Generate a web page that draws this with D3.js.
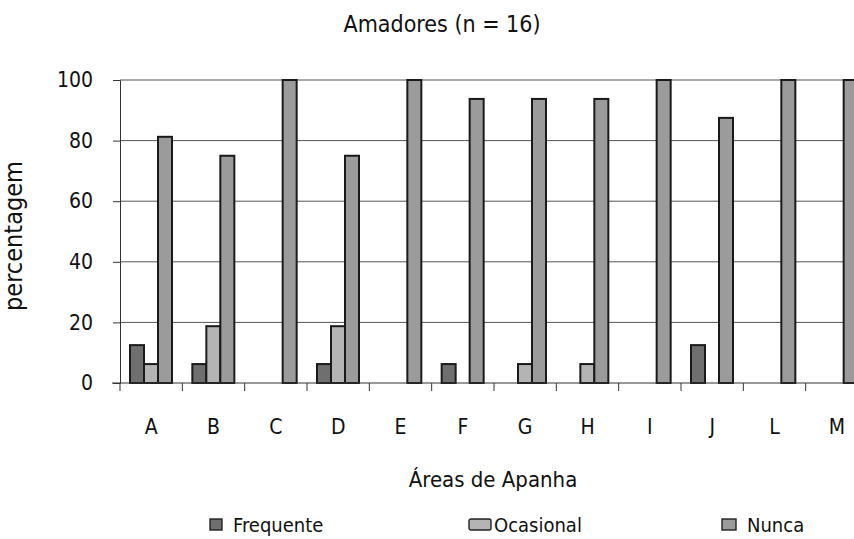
<!DOCTYPE html>
<html lang="pt">
<head>
  <meta charset="UTF-8">
  <script src="https://cdn.jsdelivr.net/npm/d3@7/dist/d3.min.js"></script>
  <style>
    body { margin: 0; background: #fff; }
    text { font-family: "DejaVu Sans Condensed", "Liberation Sans Narrow", sans-serif; fill: #111; }
  </style>
</head>
<body>
<svg></svg>
<script>
  // data (n = 16, so steps of 6.25 %)
  var areas = ["A", "B", "C", "D", "E", "F", "G", "H", "I", "J", "L", "M"];
  var series = ["Frequente", "Ocasional", "Nunca"];
  var frequente = [12.5, 6.25, 0, 6.25, 0, 6.25, 0, 0, 0, 12.5, 0, 0];
  var ocasional = [6.25, 18.75, 0, 18.75, 0, 0, 6.25, 6.25, 0, 0, 0, 0];
  var nunca = [81.25, 75, 100, 75, 100, 93.75, 93.75, 93.75, 100, 87.5, 100, 100];
  var yTicks = [0, 20, 40, 60, 80, 100];
  var colors = ["#6f6f6f", "#b4b4b4", "#9b9b9b"];

  var W = 854, H = 539;
  var margin = {top: 80, left: 120, bottom: 156};
  var plotW = 748, plotH = H - margin.top - margin.bottom;

  var svg = d3.select("svg").attr("width", W).attr("height", H);

  var values = [frequente, ocasional, nunca];
  var rows = areas.map(function(a, i) {
    return {area: a, vals: series.map(function(s, j) { return {key: s, idx: j, v: values[j][i]}; })};
  });

  var x = d3.scaleBand().domain(areas).range([0, plotW]).padding(0);
  var xs = d3.scaleBand().domain(series).range([10, 52]).padding(0);
  var y = d3.scaleLinear().domain([0, 100]).range([plotH, 0]);

  var g = svg.append("g").attr("transform", "translate(" + margin.left + "," + margin.top + ")");

  // horizontal gridlines
  g.selectAll(".grid").data(yTicks.slice(1)).enter().append("line")
    .attr("x1", 0).attr("x2", plotW)
    .attr("y1", function(d) { return y(d); }).attr("y2", function(d) { return y(d); })
    .attr("stroke", "#555").attr("stroke-width", 1);

  // bars
  var grp = g.selectAll(".area").data(rows).enter().append("g")
    .attr("transform", function(d) { return "translate(" + x(d.area) + ",0)"; });

  grp.selectAll("rect").data(function(d) { return d.vals.filter(function(e) { return e.v > 0; }); })
    .enter().append("rect")
    .attr("x", function(d) { return xs(d.key); })
    .attr("width", xs.bandwidth())
    .attr("y", function(d) { return y(d.v); })
    .attr("height", function(d) { return y(0) - y(d.v); })
    .attr("fill", function(d) { return colors[d.idx]; })
    .attr("stroke", "#1a1a1a").attr("stroke-width", 2);

  // y axis
  var yAxis = d3.axisLeft(y).tickValues(yTicks).tickSize(7).tickPadding(20);
  var ya = g.append("g").call(yAxis);
  ya.select(".domain").attr("stroke", "#333");
  ya.selectAll(".tick line").attr("stroke", "#333");
  ya.selectAll(".tick text").attr("font-size", 21).attr("fill", "#111")
    .attr("font-family", "'Liberation Sans', Arial, sans-serif");

  // x axis: ticks at band edges
  g.append("line").attr("x1", -8).attr("x2", plotW).attr("y1", plotH).attr("y2", plotH)
    .attr("stroke", "#333");
  g.selectAll(".xt").data(areas).enter().append("line")
    .attr("x1", function(d) { return x(d); }).attr("x2", function(d) { return x(d); })
    .attr("y1", plotH).attr("y2", plotH + 8).attr("stroke", "#333");
  g.selectAll(".xl").data(areas).enter().append("text")
    .attr("x", function(d) { return x(d) + x.bandwidth() / 2; })
    .attr("y", plotH + 51)
    .attr("text-anchor", "middle").attr("font-size", 21)
    .text(function(d) { return d; });

  // titles
  svg.append("text").attr("x", 442).attr("y", 32).attr("text-anchor", "middle")
    .attr("font-size", 23).text("Amadores (n = 16)");
  svg.append("text").attr("x", 493).attr("y", 487).attr("text-anchor", "middle")
    .attr("font-size", 22).text("Áreas de Apanha");
  svg.append("text").attr("transform", "translate(22,236) rotate(-90)")
    .attr("text-anchor", "middle").attr("font-size", 25).text("percentagem");

  // legend
  var legX = [210, 469, 722];
  var legW = [12, 22, 14];
  var legGap = [11, 3, 11];
  var leg = svg.selectAll(".leg").data(series).enter().append("g")
    .attr("transform", function(d, i) { return "translate(" + legX[i] + ",519)"; });
  leg.append("rect").attr("width", function(d, i) { return legW[i]; }).attr("height", 11)
    .attr("rx", function(d, i) { return i === 1 ? 2 : 0; })
    .attr("fill", function(d, i) { return colors[i]; })
    .attr("stroke", "#222").attr("stroke-width", 1.4);
  leg.append("text").attr("x", function(d, i) { return legW[i] + legGap[i]; })
    .attr("y", 13).attr("font-size", 20)
    .text(function(d) { return d; });
</script>
</body>
</html>
